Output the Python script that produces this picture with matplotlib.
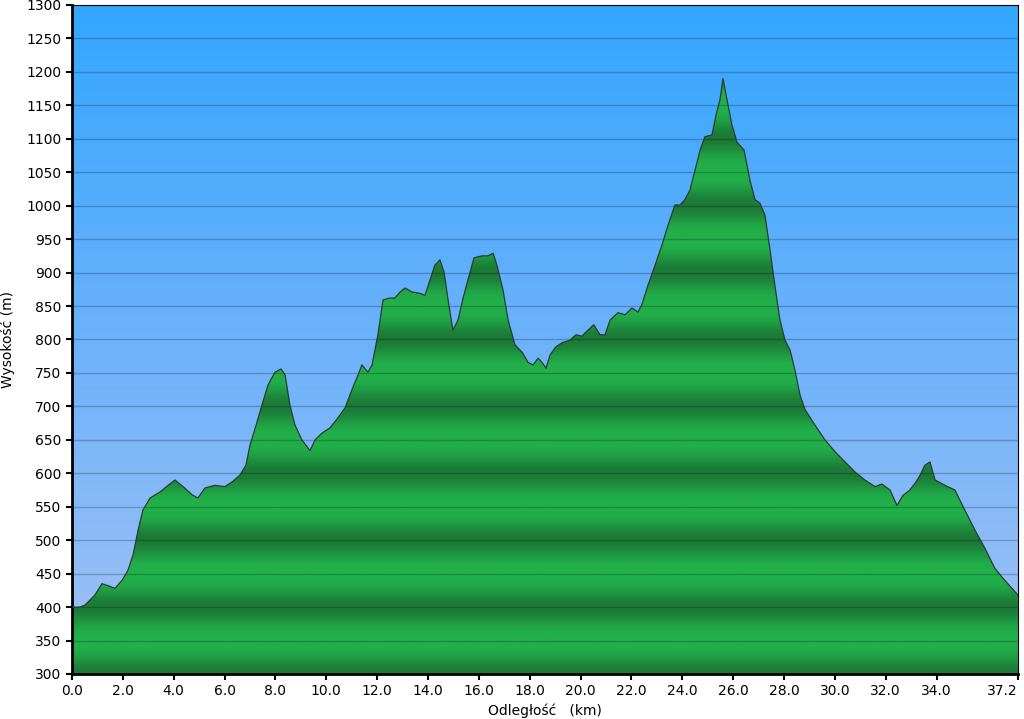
import numpy as np
import matplotlib
matplotlib.use("Agg")
import matplotlib.pyplot as plt
from matplotlib.colors import LinearSegmentedColormap

# elevation profile
dist_km = [0.0, 0.31, 0.51, 0.9, 1.18, 1.42, 1.69, 1.97, 2.2, 2.4, 2.6, 2.79,
           3.07, 3.46, 3.78, 4.05, 4.37, 4.72, 4.95, 5.23, 5.62, 6.01, 6.29, 6.6,
           6.84, 7.0, 7.24, 7.47, 7.71, 7.98, 8.22, 8.38, 8.57, 8.77, 9.04, 9.36,
           9.56, 9.83, 10.15, 10.46, 10.74, 11.01, 11.25, 11.4, 11.64, 11.8, 12.03,
           12.23, 12.5, 12.7, 12.9, 13.1, 13.37, 13.68, 13.88, 14.08, 14.27, 14.47,
           14.63, 14.79, 14.98, 15.18, 15.38, 15.57, 15.81, 16.12, 16.36, 16.56,
           16.71, 16.95, 17.15, 17.42, 17.7, 17.93, 18.13, 18.33, 18.48, 18.64,
           18.8, 19.03, 19.27, 19.58, 19.82, 20.05, 20.29, 20.52, 20.76, 20.96,
           21.16, 21.47, 21.75, 22.02, 22.26, 22.41, 22.65, 22.93, 23.2, 23.44,
           23.71, 23.91, 24.1, 24.3, 24.5, 24.7, 24.89, 25.17, 25.33, 25.48, 25.6,
           25.76, 25.95, 26.15, 26.43, 26.66, 26.86, 27.05, 27.25, 27.45, 27.64,
           27.84, 28.04, 28.24, 28.43, 28.63, 28.83, 29.22, 29.61, 30.01, 30.4,
           30.79, 31.18, 31.58, 31.85, 32.17, 32.44, 32.68, 32.95, 33.19, 33.35,
           33.54, 33.74, 33.94, 34.33, 34.72, 35.11, 35.51, 35.9, 36.29, 36.68, 37.2]
elev_m = [400, 400, 403, 418, 435, 432, 428, 440, 455, 478, 515, 545,
          563, 572, 582, 590, 580, 568, 563, 578, 582, 580, 587, 597,
          612, 642, 672, 702, 732, 751, 756, 747, 702, 672, 650, 634,
          650, 660, 668, 683, 698, 725, 747, 762, 751, 762, 807,
          859, 862, 862, 871, 877, 871, 869, 866, 889, 911, 919,
          901, 859, 814, 829, 862, 889, 922, 925, 925, 929,
          911, 874, 829, 792, 781, 766, 762, 772, 766, 757,
          777, 789, 795, 799, 807, 805, 814, 822, 807, 807,
          829, 840, 837, 847, 841, 852, 881, 911, 941, 971,
          1001, 1001, 1009, 1023, 1053, 1083, 1103, 1106, 1136, 1158, 1190,
          1158, 1121, 1095, 1083, 1038, 1009, 1004, 986, 934, 881,
          829, 799, 784, 754, 717, 695, 672, 650, 632, 617,
          602, 590, 580, 584, 575, 552, 567, 575, 587, 597,
          612, 617, 590, 582, 575, 545, 515, 488, 458, 440, 418]

x_ticks = [0, 2, 4, 6, 8, 10, 12, 14, 16, 18, 20, 22, 24, 26, 28, 30, 32, 34, 37.2]
y_ticks = list(range(300, 1301, 50))

x = np.array(dist_km)
y = np.array(elev_m)
x0, x1, y0, y1 = 0, 37.2, 300, 1300

fig = plt.figure(figsize=(10.24, 7.19), dpi=100)
ax = fig.add_axes([0.0703, 0.0626, 0.9238, 0.9305])

# sky gradient background
sky = LinearSegmentedColormap.from_list("sky", ["#a2c2f4", "#6cb2fb", "#33a6ff"])
grad = np.linspace(0, 1, 256).reshape(-1, 1)
ax.imshow(grad, cmap=sky, origin="lower", aspect="auto",
          extent=[x0, x1, y0, y1], zorder=0)

# green banded fill, dark at every 100 m
greens = LinearSegmentedColormap.from_list("gr", ["#22b04b", "#1b7a37"])
hh = np.linspace(y0, y1, 2000)
band = (1 + np.cos(2 * np.pi * (hh - 300) / 100)) / 2
band = band ** 1.5
img = ax.imshow(band.reshape(-1, 1), cmap=greens, origin="lower", aspect="auto",
                extent=[x0, x1, y0, y1], zorder=1, vmin=0, vmax=1)
poly = ax.fill_between(x, y0, y, color="none", zorder=1)
clip = poly.get_paths()[0]
img.set_clip_path(clip, transform=ax.transData)

ax.plot(x, y, color="#2b3b30", lw=0.9, zorder=3)

for v in y_ticks:
    ax.axhline(v, color="black", alpha=0.22, lw=1, zorder=2)

ax.set_xlim(x0, x1)
ax.set_ylim(y0, y1)
ax.set_xticks(x_ticks)
ax.set_xticklabels([f"{t:.1f}" for t in x_ticks])
ax.get_xticklabels()[-1].set_horizontalalignment("right")
ax.set_yticks(y_ticks)
ax.tick_params(direction="out", length=4, width=1.5, labelsize=10, colors="black")
for s in ["left", "bottom"]:
    ax.spines[s].set_linewidth(2)
for s in ["top", "right"]:
    ax.spines[s].set_linewidth(0.8)

ax.set_xlabel("Odległość   (km)", fontsize=10)
ax.set_ylabel("Wysokość (m)", fontsize=10, labelpad=8)

fig.savefig("out.png", dpi=100)
